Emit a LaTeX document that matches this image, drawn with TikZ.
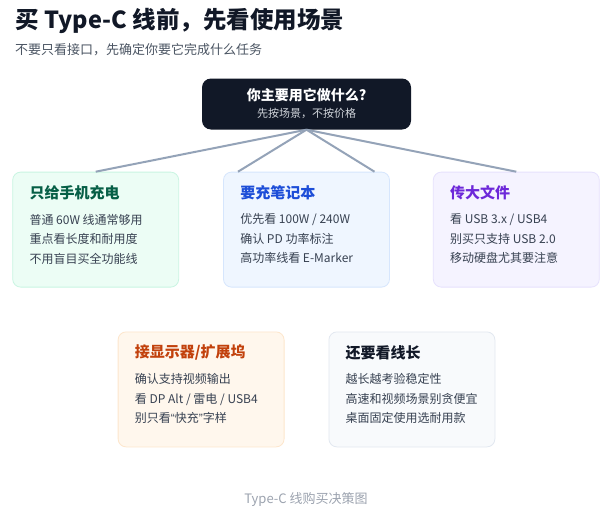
\documentclass[tikz,border=0pt]{standalone}
\usepackage{fontspec}
\setmainfont{Noto Sans CJK SC}
\newfontfamily\quotefont{Liberation Sans}
\usepackage{tikz}
\usetikzlibrary{positioning}
\definecolor{ink}{HTML}{111827}
\definecolor{graytext}{HTML}{4B5563}
\definecolor{graybody}{HTML}{374151}
\definecolor{graylight}{HTML}{9CA3AF}
\definecolor{rootsub}{HTML}{D1D5DB}
\definecolor{linkgray}{HTML}{94A3B8}
\definecolor{greenpale}{HTML}{ECFDF5}
\definecolor{greenline}{HTML}{C9F5E2}
\definecolor{greendark}{HTML}{065F46}
\definecolor{bluepale}{HTML}{EFF6FF}
\definecolor{blueline}{HTML}{D6E6FD}
\definecolor{bluedark}{HTML}{1D4ED8}
\definecolor{purplepale}{HTML}{F5F3FF}
\definecolor{purpleline}{HTML}{E6E1FD}
\definecolor{purpledark}{HTML}{6D28D9}
\definecolor{orangepale}{HTML}{FFF7ED}
\definecolor{orangeline}{HTML}{FDE6CC}
\definecolor{orangedark}{HTML}{C2410C}
\definecolor{slatepale}{HTML}{F8FAFC}
\definecolor{slateline}{HTML}{E2E8F0}
\tikzset{
  rootbox/.style={
    fill=ink, rounded corners=9pt, text=white, align=center,
    minimum width=209pt, minimum height=51pt, text width=209pt,
    inner sep=0pt, font=\fontsize{14}{17}\selectfont
  },
  card/.style={
    rounded corners=8pt, line width=0.8pt,
    minimum width=166pt, minimum height=115pt, inner sep=0pt
  },
  cardtitle/.style={font=\fontsize{15}{18}\selectfont\bfseries, inner sep=0pt},
  cardbody/.style={
    font=\fontsize{12}{19.5}\selectfont, text=graybody,
    align=left, inner sep=0pt
  },
  link/.style={linkgray, line width=2pt}
}

\begin{document}
\begin{tikzpicture}[x=1pt, y=-1pt]
  \fill[white] (0,0) rectangle (607,522);

  \node[anchor=west, inner sep=0pt, text=ink, font=\fontsize{23.5}{28}\selectfont\bfseries] (title) at (15,21) {买 Type-C 线前，先看使用场景};
  \node[anchor=west, inner sep=0pt, text=graytext, font=\fontsize{13}{15}\selectfont] (subtitle) at (15,50) {不要只看接口，先确定你要它完成什么任务};

  \node[rootbox] (root) at (306.5,104) {{\bfseries 你主要用它做什么?}\\{\fontsize{11}{13}\selectfont\color{rootsub}先按场景，不按价格}};

  \node[card, fill=bluepale, draw=blueline, below=42pt of root] (laptop) {};
  \node[card, fill=greenpale, draw=greenline, left=44pt of laptop] (phone) {};
  \node[card, fill=purplepale, draw=purpleline, right=43pt of laptop] (files) {};
  \node[card, fill=orangepale, draw=orangeline, below left=44pt and 22pt of laptop.south] (display) {};
  \node[card, fill=slatepale, draw=slateline, below right=44pt and 22pt of laptop.south] (length) {};

  \node[cardtitle, text=greendark, below right=21pt and 17pt of phone.north west, anchor=west] (phonetitle) {只给手机充电};
  \node[cardbody, below right=42pt and 17pt of phone.north west] (phonebody) {普通 60W 线通常够用\\重点看长度和耐用度\\不用盲目买全功能线};

  \node[cardtitle, text=bluedark, below right=21pt and 17pt of laptop.north west, anchor=west] (laptoptitle) {要充笔记本};
  \node[cardbody, below right=42pt and 17pt of laptop.north west] (laptopbody) {优先看 100W / 240W\\确认 PD 功率标注\\高功率线看 E-Marker};

  \node[cardtitle, text=purpledark, below right=21pt and 17pt of files.north west, anchor=west] (filestitle) {传大文件};
  \node[cardbody, below right=42pt and 17pt of files.north west] (filesbody) {看 USB 3.x / USB4\\别买只支持 USB 2.0\\移动硬盘尤其要注意};

  \node[cardtitle, text=orangedark, below right=21pt and 17pt of display.north west, anchor=west] (displaytitle) {接显示器/扩展坞};
  \node[cardbody, below right=42pt and 17pt of display.north west] (displaybody) {确认支持视频输出\\看 DP Alt / 雷电 / USB4\\别只看{\quotefont“}快充{\quotefont”}字样};

  \node[cardtitle, text=ink, below right=21pt and 17pt of length.north west, anchor=west] (lengthtitle) {还要看线长};
  \node[cardbody, below right=42pt and 17pt of length.north west] (lengthbody) {越长越考验稳定性\\高速和视频场景别贪便宜\\桌面固定使用选耐用款};

  \coordinate[left=68.5pt of laptop.north] (laptopleft);
  \coordinate[right=68pt of laptop.north] (laptopright);
  \draw[link] (root.south) -- (phone.north);
  \draw[link] (root.south) -- (laptopleft);
  \draw[link] (root.south) -- (laptopright);
  \draw[link] (root.south) -- (files.north);

  \node[text=graylight, font=\fontsize{13}{15}\selectfont] (caption) at (306,500) {Type-C 线购买决策图};
\end{tikzpicture}
\end{document}
